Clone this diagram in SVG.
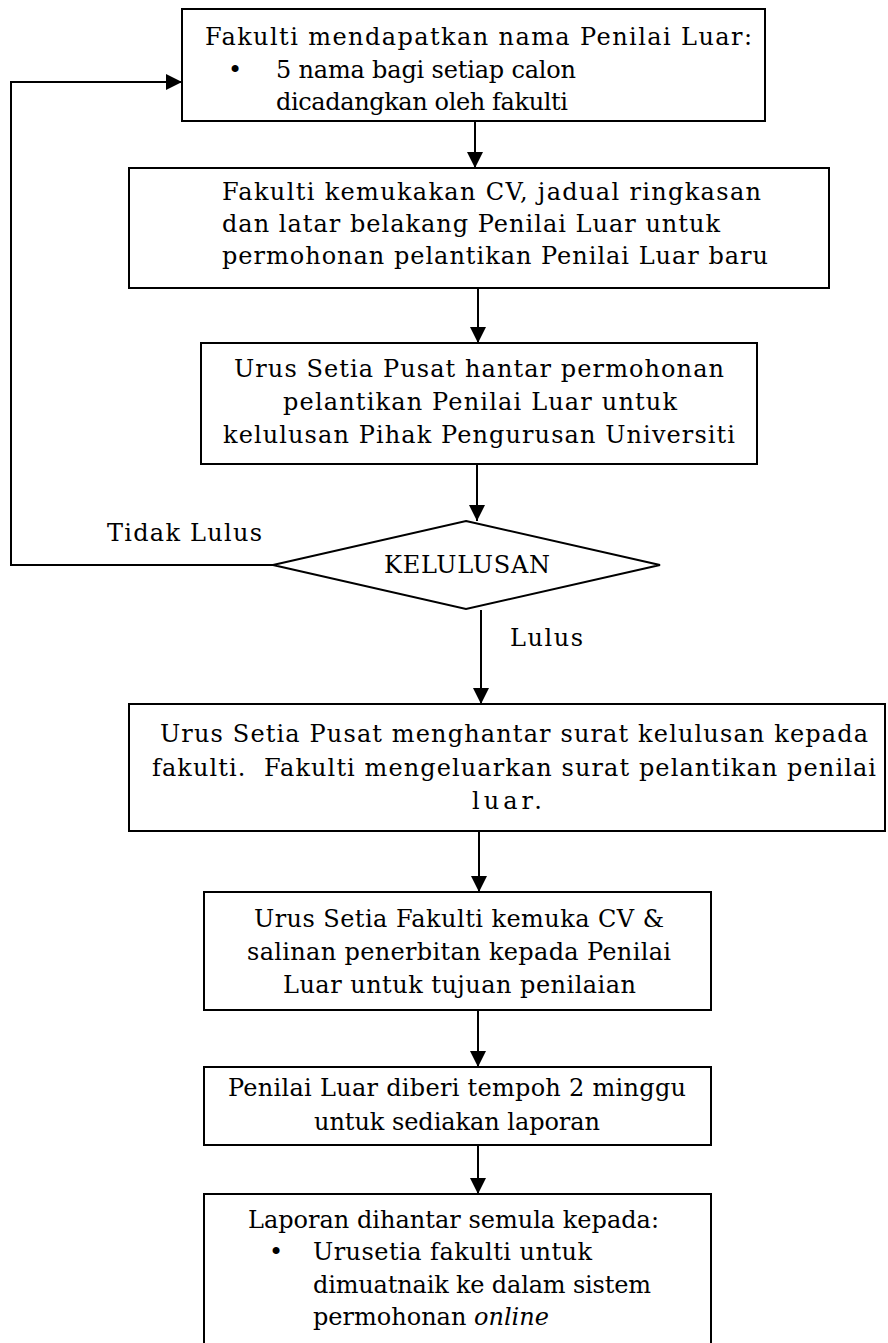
<svg xmlns="http://www.w3.org/2000/svg" width="888" height="1343" viewBox="0 0 888 1343">
<defs>
<style>
.box{fill:#fff;stroke:#000;stroke-width:2}
.t{font-family:"DejaVu Serif","Liberation Serif",serif;font-size:24px;fill:#000}
.c{fill:none;stroke:#000;stroke-width:2}
</style>
<marker id="ah" markerUnits="userSpaceOnUse" markerWidth="16" markerHeight="18" refX="16" refY="8" orient="auto" viewBox="0 0 16 16">
<path d="M0,0 L16,8 L0,16 z" fill="#000"/>
</marker>
</defs>
<rect width="888" height="1343" fill="#fff"/>
<g id="connectors">
<path class="c" d="M475,121 V168" marker-end="url(#ah)"/>
<path class="c" d="M478,288 V343" marker-end="url(#ah)"/>
<path class="c" d="M477,464 V521" marker-end="url(#ah)"/>
<path class="c" d="M481,610 V704" marker-end="url(#ah)"/>
<path class="c" d="M479,831 V892" marker-end="url(#ah)"/>
<path class="c" d="M478,1010 V1067" marker-end="url(#ah)"/>
<path class="c" d="M478,1145 V1194" marker-end="url(#ah)"/>
<path class="c" d="M273,565 H11 V82 H182" marker-end="url(#ah)"/>
<text class="t" x="107" y="541" textLength="155">Tidak Lulus</text>
<text class="t" x="510" y="646" textLength="73">Lulus</text>
</g>
<g id="n1">
<rect class="box" x="182" y="9" width="583" height="112"/>
<text class="t" x="205" y="45" textLength="547">Fakulti mendapatkan nama Penilai Luar:</text>
<text class="t" x="228" y="78">•</text>
<text class="t" x="276" y="78" textLength="300">5 nama bagi setiap calon</text>
<text class="t" x="276" y="110" textLength="292">dicadangkan oleh fakulti</text>
</g>
<g id="n2">
<rect class="box" x="129" y="168" width="700" height="120"/>
<text class="t" x="222" y="200" textLength="539">Fakulti kemukakan CV, jadual ringkasan</text>
<text class="t" x="222" y="232" textLength="498">dan latar belakang Penilai Luar untuk</text>
<text class="t" x="222" y="264" textLength="546">permohonan pelantikan Penilai Luar baru</text>
</g>
<g id="n3">
<rect class="box" x="201" y="343" width="556" height="121"/>
<text class="t" x="234" y="377" textLength="490">Urus Setia Pusat hantar permohonan</text>
<text class="t" x="283" y="410" textLength="394">pelantikan Penilai Luar untuk</text>
<text class="t" x="223" y="443" textLength="512">kelulusan Pihak Pengurusan Universiti</text>
</g>
<g id="n4">
<path class="box" d="M466,521 L660,565 L466,609 L273,565 z"/>
<text class="t" x="384" y="573" textLength="166">KELULUSAN</text>
</g>
<g id="n5">
<rect class="box" x="129" y="704" width="756" height="127"/>
<text class="t" x="160" y="742" textLength="708">Urus Setia Pusat menghantar surat kelulusan kepada</text>
<text class="t" x="152" y="776" textLength="724" xml:space="preserve">fakulti.  Fakulti mengeluarkan surat pelantikan penilai</text>
<text class="t" x="472" y="809" textLength="70">luar.</text>
</g>
<g id="n6">
<rect class="box" x="204" y="892" width="507" height="118"/>
<text class="t" x="254" y="927" textLength="410">Urus Setia Fakulti kemuka CV &amp;</text>
<text class="t" x="247" y="960" textLength="424">salinan penerbitan kepada Penilai</text>
<text class="t" x="283" y="993" textLength="353">Luar untuk tujuan penilaian</text>
</g>
<g id="n7">
<rect class="box" x="204" y="1067" width="507" height="78"/>
<text class="t" x="228" y="1096" textLength="458">Penilai Luar diberi tempoh 2 minggu</text>
<text class="t" x="314" y="1130" textLength="286">untuk sediakan laporan</text>
</g>
<g id="n8">
<rect class="box" x="204" y="1194" width="507" height="160"/>
<text class="t" x="248" y="1228" textLength="411">Laporan dihantar semula kepada:</text>
<text class="t" x="269" y="1260">•</text>
<text class="t" x="313" y="1260" textLength="279">Urusetia fakulti untuk</text>
<text class="t" x="313" y="1293" textLength="338">dimuatnaik ke dalam sistem</text>
<text class="t" x="313" y="1325">permohonan <tspan font-style="italic">online</tspan></text>
</g>
</svg>
